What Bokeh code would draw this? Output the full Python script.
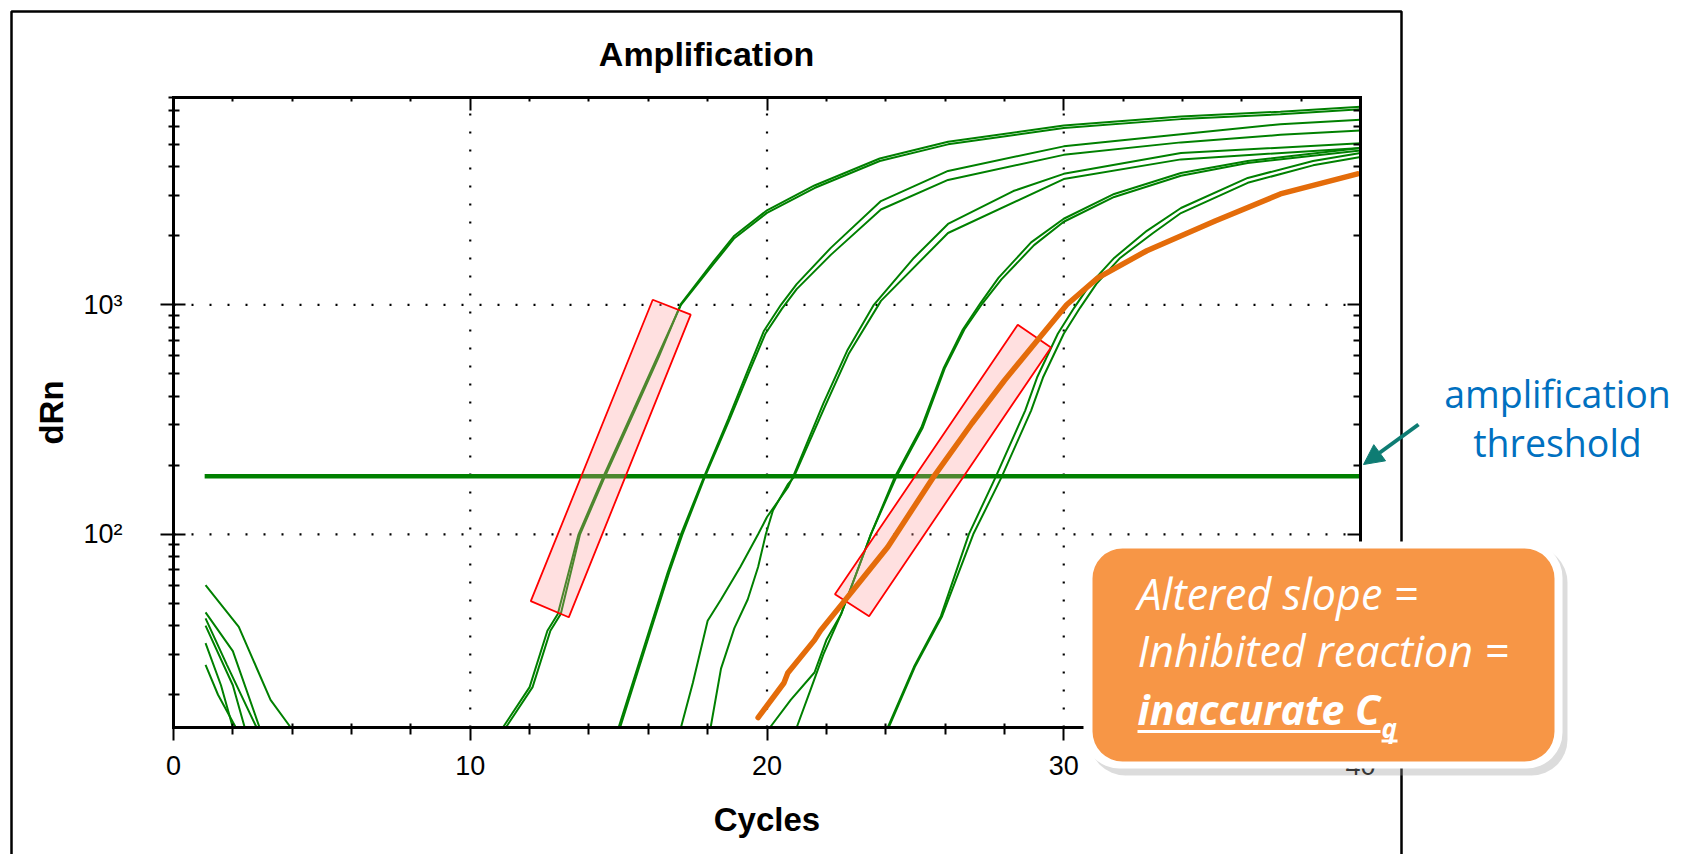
import math
from bokeh.plotting import figure
from bokeh.models import (Range1d, FixedTicker, LinearAxis, LogAxis, BoxAnnotation,
                          Label, Arrow, NormalHead)
from bokeh.embed import file_html
from bokeh.resources import INLINE

# ---------------- data ----------------
x_major = [0, 10, 20, 30, 40]
x_minor = [2, 4, 6, 8, 12, 14, 16, 18, 22, 24, 26, 28, 32, 34, 36, 38]
y_major = [100, 1000]
y_minor = [20, 30, 40, 50, 60, 70, 80, 90, 200, 300, 400, 500, 600, 700, 800, 900,
           2000, 3000, 4000, 5000, 6000, 7000, 8000]
y_labels = {100: "10²", 1000: "10³"}
grid_x = [10, 20, 30]
grid_y = [100, 1000]
X_LO, X_HI = 0, 40
Y_LO, Y_HI = 14.4, 8000

threshold = 179
threshold_cycles = [1.05, 40]

# early background noise traces
noise_cycles = [[1.08, 2.2, 3.27, 3.95], [1.08, 2.0, 2.9], [1.08, 1.8, 2.8],
                [1.08, 1.6, 2.0], [1.08, 1.5, 2.1], [1.08, 2.0, 2.4]]
noise_values = [[60, 39.5, 19, 14.4], [45.7, 31, 14.4], [43, 27, 14.4],
                [33.6, 22, 14.4], [27, 20, 14.4], [40, 22, 14.4]]

# green amplification curves (replicate pairs)
a1_cycles = [11.1, 12.0, 12.6, 12.95, 13.65, 14.5, 15.5, 16.3, 17.1, 18.2, 18.9, 20.0, 21.6, 23.8, 26.1, 30.0, 33.95, 37.3, 40]
a1_values = [14.4, 21.6, 38, 45, 100, 180, 348, 592, 1000, 1507, 1950, 2515, 3226, 4230, 5000, 5890, 6440, 6760, 7110]
a2_cycles = [11.2, 12.1, 12.7, 13.05, 13.7, 14.55, 15.55, 16.35, 17.1, 18.2, 18.9, 20.0, 21.6, 23.8, 26.1, 30.0, 33.95, 37.3, 40]
a2_values = [14.4, 21.6, 38, 45, 100, 180, 348, 592, 1010, 1545, 2000, 2580, 3310, 4340, 5130, 6040, 6610, 6940, 7300]
b1_cycles = [15.0, 16.0, 16.65, 17.1, 17.87, 18.7, 19.35, 19.9, 20.47, 21.0, 22.15, 23.84, 26.1, 30.0, 33.95, 37.3, 40]
b1_values = [14.4, 37, 68, 100, 177, 319, 516, 771, 1000, 1230, 1770, 2830, 3830, 4900, 5530, 6120, 6400]
b2_cycles = [15.05, 16.05, 16.7, 17.15, 17.9, 18.75, 19.4, 19.95, 20.5, 21.0, 22.15, 23.84, 26.1, 30.0, 33.95, 37.3, 40]
b2_values = [14.4, 37, 68, 100, 177, 319, 510, 750, 960, 1170, 1650, 2600, 3500, 4500, 5100, 5500, 5750]
c1_cycles = [17.1, 17.5, 18.0, 18.45, 19.1, 19.7, 20.0, 20.7, 20.87, 21.9, 22.7, 23.6, 24.95, 26.1, 28.3, 30.0, 33.95, 40]
c1_values = [14.4, 22.5, 42, 52, 72, 100, 119, 160, 177, 372, 630, 1000, 1600, 2250, 3130, 3720, 4580, 5060]
c2_cycles = [18.1, 18.45, 18.9, 19.35, 19.7, 19.96, 20.2, 20.7, 20.9, 21.95, 22.75, 23.84, 26.1, 30.0, 33.95, 40]
c2_values = [14.4, 26, 39, 52, 72, 100, 127, 165, 177, 360, 610, 1040, 2055, 3530, 4300, 4820]
d1_cycles = [20.1, 20.8, 21.6, 22.0, 22.5, 23.3, 23.5, 24.3, 25.2, 25.96, 26.6, 27.2, 27.8, 28.9, 30.0, 31.7, 33.95, 36.2, 40]
d1_values = [14.4, 19, 25, 34.6, 45, 85, 100, 177, 292, 532, 780, 1020, 1310, 1870, 2370, 3040, 3750, 4230, 4820]
d2_cycles = [21.0, 21.5, 21.9, 22.5, 23.3, 23.5, 24.35, 25.25, 26.0, 26.65, 27.25, 27.9, 29.0, 30.0, 31.7, 33.95, 36.2, 40]
d2_values = [14.4, 21.6, 30, 45, 85, 100, 177, 292, 532, 780, 1010, 1290, 1820, 2300, 2950, 3650, 4150, 4700]
e1_cycles = [24.07, 24.95, 25.86, 26.8, 27.7, 28.7, 29.1, 29.8, 30.35, 30.9, 31.7, 32.8, 33.95, 36.2, 38.4, 40]
e1_values = [14.4, 26.4, 44, 100, 177, 346, 482, 748, 970, 1233, 1600, 2100, 2640, 3570, 4230, 4580]
e2_cycles = [24.1, 24.98, 25.9, 26.95, 27.9, 28.9, 29.3, 30.0, 30.55, 31.1, 31.9, 33.0, 33.95, 36.2, 38.4, 40]
e2_values = [14.4, 26.4, 44, 100, 177, 346, 482, 748, 970, 1233, 1600, 2050, 2510, 3400, 4050, 4400]
green_cycles = [a1_cycles, a2_cycles, b1_cycles, b2_cycles, c1_cycles, c2_cycles,
                d1_cycles, d2_cycles, e1_cycles, e2_cycles]
green_values = [a1_values, a2_values, b1_values, b2_values, c1_values, c2_values,
                d1_values, d2_values, e1_values, e2_values]

# inhibited reaction (orange)
inhib_cycles = [19.7, 20.57, 20.7, 21.6, 21.8, 22.7, 22.9, 24.07, 25.6, 26.9, 28.0, 29.1, 30.1, 31.15, 32.8, 35.1, 37.3, 39.9]
inhib_values = [15.9, 22.5, 24.9, 34.6, 38, 53, 57, 88, 177, 304, 468, 697, 1000, 1310, 1720, 2320, 3040, 3720]

# highlighted slope regions (corner points, data units)
hl1_cycles = [12.04, 16.15, 17.43, 13.32]
hl1_values = [51.2, 1052, 906, 43.5]
hl2_cycles = [22.29, 28.45, 29.57, 23.44]
hl2_values = [54.8, 818, 652, 44]

# ---------------- layout ----------------
W, H = 1685, 854
FL, FT, FR, FB = 173, 97, 1360, 727   # where the axes box sits on the page
GREEN = "#008000"
ORANGE = "#E46C0A"
FONT = "Liberation Sans"

px_per_x = (FR - FL) / (X_HI - X_LO)
x_start = X_LO - FL / px_per_x
x_end = X_HI + (W - FR) / px_per_x
dec_per_px = (math.log10(Y_HI) - math.log10(Y_LO)) / (FB - FT)
y_start = 10 ** (math.log10(Y_LO) - (H - FB) * dec_per_px)
y_end = 10 ** (math.log10(Y_HI) + FT * dec_per_px)


def sx(X):
    return X


def sy(Y):
    return H - Y


def screen_box(l, t, r, b, **kw):
    return BoxAnnotation(left=sx(l), right=sx(r), top=sy(t), bottom=sy(b),
                         left_units="screen", right_units="screen", top_units="screen",
                         bottom_units="screen", **kw)


p = figure(width=W, height=H, output_backend="svg", toolbar_location=None,
           x_range=Range1d(x_start, x_end), y_range=Range1d(y_start, y_end),
           y_axis_type="log", min_border=0, x_axis_label="Cycles", y_axis_label="dRn")
p.background_fill_color = "white"
p.border_fill_color = "white"
p.outline_line_color = None
p.xgrid.visible = False
p.ygrid.visible = False

xt = FixedTicker(ticks=x_major, minor_ticks=x_minor)
yt = FixedTicker(ticks=y_major, minor_ticks=y_minor)
p.xaxis.ticker = xt
p.yaxis.ticker = yt
p.yaxis.major_label_overrides = y_labels
p.xaxis.fixed_location = Y_LO
p.yaxis.fixed_location = X_LO
p.xaxis.bounds = (X_LO, X_HI)
p.yaxis.bounds = (Y_LO, Y_HI)

for ax in (p.xaxis[0], p.yaxis[0]):
    ax.axis_line_width = 3
    ax.axis_line_cap = "square"
    ax.major_tick_line_width = 2
    ax.minor_tick_line_width = 2
    ax.major_label_text_font = FONT
    ax.major_label_text_font_size = "27px"
    ax.major_label_text_color = "black"
    ax.axis_label_text_font = FONT
    ax.axis_label_text_font_size = "33px"
    ax.axis_label_text_font_style = "bold"
    ax.axis_label_text_color = "black"

p.xaxis.major_tick_out = 13
p.xaxis.major_tick_in = 0
p.xaxis.minor_tick_in = 4
p.xaxis.minor_tick_out = 7
p.xaxis.major_label_standoff = 15
p.xaxis.axis_label_standoff = 23

p.yaxis.major_tick_out = 13
p.yaxis.major_tick_in = 12
p.yaxis.minor_tick_in = 6
p.yaxis.minor_tick_out = 5
p.yaxis.major_label_standoff = 38
p.yaxis.axis_label_standoff = 10

top_ax = LinearAxis(ticker=xt, fixed_location=Y_HI, bounds=(X_LO, X_HI),
                    major_tick_in=13, major_tick_out=0, minor_tick_in=4,
                    minor_tick_out=0, major_tick_line_width=2, minor_tick_line_width=2,
                    axis_line_width=3, axis_line_cap="square",
                    major_label_text_color=None, major_label_text_font_size="1px",
                    major_label_standoff=0, major_label_overrides={t: "" for t in x_major})
p.add_layout(top_ax, "above")
right_ax = LogAxis(ticker=yt, fixed_location=X_HI, bounds=(Y_LO, Y_HI),
                   major_tick_in=13, major_tick_out=0, minor_tick_in=7,
                   minor_tick_out=0, major_tick_line_width=2, minor_tick_line_width=2,
                   axis_line_width=3, axis_line_cap="square",
                   major_label_text_color=None, major_label_text_font_size="1px",
                   major_label_standoff=0, major_label_overrides={t: "" for t in y_major})
p.add_layout(right_ax, "right")

# dotted grid
p.segment(x0=grid_x, y0=[Y_LO] * len(grid_x), x1=grid_x, y1=[Y_HI] * len(grid_x),
          line_color="black", line_width=2.2, line_dash="2 16")
p.segment(x0=[X_LO] * len(grid_y), y0=grid_y, x1=[X_HI] * len(grid_y), y1=grid_y,
          line_color="black", line_width=2.2, line_dash="2 16")

# ---------------- glyphs ----------------
for cx, vy in zip(noise_cycles, noise_values):
    p.line(cx, vy, line_color=GREEN, line_width=2)
for cx, vy in zip(green_cycles, green_values):
    p.line(cx, vy, line_color=GREEN, line_width=2)
p.line(threshold_cycles, [threshold, threshold], line_color=GREEN, line_width=4.5)

for hx, hy in ((hl1_cycles, hl1_values), (hl2_cycles, hl2_values)):
    p.patch(hx, hy, fill_color="#FF9999", fill_alpha=0.3, line_color="#FF0000", line_width=1.8)

p.line(inhib_cycles, inhib_values, line_color=ORANGE, line_width=5.5, line_join="round",
       line_cap="round")

# ---------------- annotations ----------------
p.add_layout(Label(x=sx(706), y=sy(53), x_units="screen", y_units="screen",
                   text="Amplification", text_font=FONT, text_font_style="bold",
                   text_font_size="34px", text_color="black", text_align="center",
                   text_baseline="alphabetic"))

p.add_layout(screen_box(11, 11, 1401, 900, fill_color=None, line_color="black",
                        line_alpha=1, line_width=2.5))

p.add_layout(Arrow(x_start=sx(1418), y_start=sy(424), x_end=sx(1363), y_end=sy(464),
                   start_units="screen", end_units="screen", line_color="#0E7C73",
                   line_width=4,
                   end=NormalHead(size=20, fill_color="#0E7C73", line_color="#0E7C73")))
for txt, base in (("amplification", 392.5), ("threshold", 441.5)):
    p.add_layout(Label(x=sx(1557), y=sy(base), x_units="screen", y_units="screen",
                       text=txt, text_font="Open Sans", text_font_size="37.5px",
                       text_color="#0070C0", text_align="center",
                       text_baseline="alphabetic"))

p.add_layout(screen_box(1089, 546, 1567, 775, fill_color="#9A9A9A", fill_alpha=0.35,
                        line_color=None, border_radius=36))
p.add_layout(screen_box(1083, 541, 1562, 768, fill_color="white", fill_alpha=1,
                        line_color=None, border_radius=36))
p.add_layout(screen_box(1092, 548, 1554, 761, fill_color="#F79646", fill_alpha=1,
                        line_color=None, border_radius=30))

for txt, base in (("Altered slope =", 592.5), ("Inhibited reaction =", 649.5)):
    p.add_layout(Label(x=sx(1137), y=sy(base), x_units="screen", y_units="screen",
                       text=txt, text_font="Open Sans", text_font_style="italic",
                       text_font_size="43px", text_color="white",
                       text_baseline="alphabetic"))
p.add_layout(Label(x=sx(1137), y=sy(708), x_units="screen", y_units="screen",
                   text="inaccurate C", text_font="Open Sans", text_font_style="bold italic",
                   text_font_size="41px", text_color="white", text_baseline="alphabetic"))
p.add_layout(Label(x=sx(1381), y=sy(727.5), x_units="screen", y_units="screen",
                   text="q", text_font="Open Sans", text_font_style="bold italic",
                   text_font_size="26px", text_color="white", text_baseline="alphabetic"))
p.add_layout(screen_box(1137, 729.5, 1380, 732.5, fill_color="white", fill_alpha=1,
                        line_color=None))
p.add_layout(screen_box(1381, 739, 1397, 742, fill_color="white", fill_alpha=1,
                        line_color=None))

open("out.html", "w").write(file_html(p, INLINE))
